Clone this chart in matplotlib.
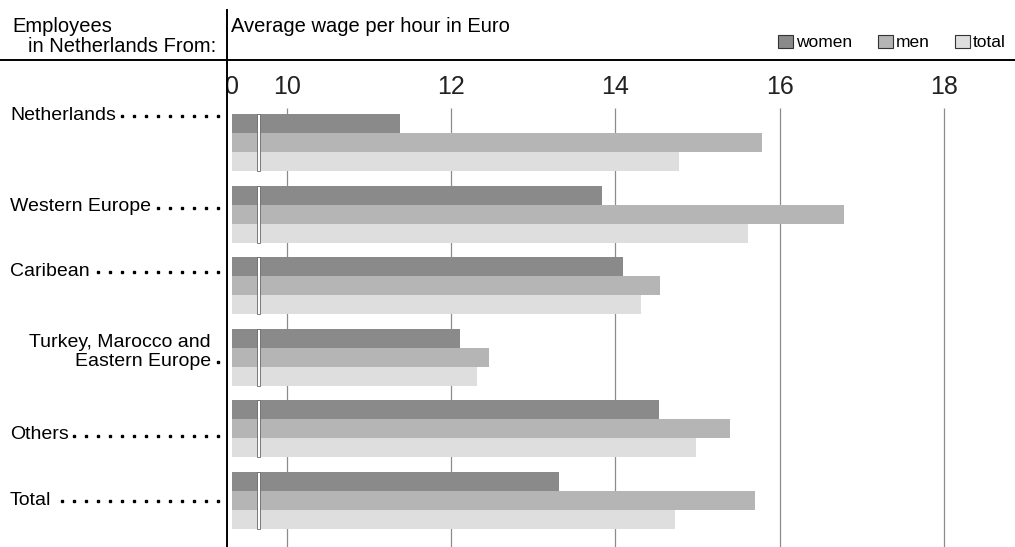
import numpy as np
import matplotlib
matplotlib.use('Agg')
import matplotlib.pyplot as plt
from matplotlib import font_manager
from matplotlib.lines import Line2D
from matplotlib.patches import Patch, Rectangle

# data (euro per hour)
countries = ['Netherlands', 'Western Europe', 'Caribean',
             'Turkey, Marocco and\nEastern Europe', 'Others', 'Total']
women = [11.38, 13.84, 14.09, 12.11, 14.53, 13.31]
men = [15.78, 16.78, 14.54, 12.46, 15.40, 15.70]
total = [14.77, 15.62, 14.31, 12.31, 14.98, 14.73]
series_names = ['women', 'men', 'total']
tick_values = [0, 10, 12, 14, 16, 18]

colors = ['#8a8a8a', '#b5b5b5', '#dedede']
BREAK = 9.33      # the axis jumps from 0 to ~9.3
W, H = 1015, 547

names = {f.name for f in font_manager.fontManager.ttflist}
font = 'Liberation Sans' if 'Liberation Sans' in names else 'DejaVu Sans'
num_font = font
for n in ['Liberation Sans Narrow', 'DejaVu Sans Condensed']:
    if n in names:
        num_font = n
        break
plt.rcParams['font.family'] = font

fig = plt.figure(figsize=(W / 100, H / 100), dpi=100)
ax = fig.add_axes([227 / W, 0, 1 - 227 / W, 487 / H])

y = np.arange(len(countries))
h = 0.265
for k, (vals, c, name) in enumerate(zip([women, men, total], colors, series_names)):
    ax.barh(y + (k - 1) * h, np.array(vals) - BREAK, height=h, left=0,
            color=c, label=name, zorder=2)

# grid lines
grid_vals = [v for v in tick_values if v > 0]
ax.vlines([v - BREAK for v in grid_vals], -0.48, 5.7, color='#8c8c8c', lw=0.9, zorder=1)

# break marks on each group
for i in y:
    ax.add_patch(Rectangle((0.30, i - 1.5 * h), 0.04, 3 * h, facecolor='white',
                           edgecolor='#666666', lw=0.6, zorder=3))

# tick numbers
for v in tick_values:
    p = 0 if v == 0 else v - BREAK
    ax.text(p, -0.77, str(v), ha='center', va='center', fontsize=18,
            family=num_font, color='#222222')

ax.set_xlim(-0.061, 9.537)
ax.set_ylim(5.65, -1.152)
ax.set_xticks([])
ax.set_yticks([])
for s in ax.spines.values():
    s.set_visible(False)

# frame lines
fig.add_artist(Line2D([0, 1], [487 / H, 487 / H], color='black', lw=1.4))
fig.add_artist(Line2D([227 / W, 227 / W], [0, 537 / H], color='black', lw=1.4))

fig.text(12 / W, 1 - 27 / H, 'Employees', va='center', fontsize=14.5)
fig.text(216 / W, 1 - 46 / H, 'in Netherlands From:', ha='right', va='center', fontsize=14.5)
fig.text(231 / W, 1 - 27 / H, 'Average wage per hour in Euro', va='center', fontsize=14.5)

handles = [Patch(facecolor=c, edgecolor='#333333', lw=0.8) for c in colors]
ax.legend(handles, series_names, loc='lower right', bbox_to_anchor=(1.0, 1.0),
          ncol=3, frameon=False, fontsize=12.5, handlelength=0.85, handleheight=0.85,
          handletextpad=0.15, columnspacing=1.5, borderaxespad=0.15)

# category labels with dotted leaders
label_shift = [-0.38, -0.10, -0.20, -0.07, 0.08, 0.0]
texts = []
for i, (lab, sh) in enumerate(zip(countries, label_shift)):
    yy = ax.transData.transform((0, i + sh))[1] / H
    if '\n' in lab:
        t = fig.text(211 / W, yy, lab, ha='right', va='center', fontsize=14,
                     multialignment='right', linespacing=1.15)
    else:
        t = fig.text(10 / W, yy, lab, ha='left', va='center', fontsize=14)
    texts.append(t)

fig.canvas.draw()
for t, lab in zip(texts, countries):
    bb = t.get_window_extent()
    nl = lab.count('\n') + 1
    ly = bb.y0 + bb.height / (2 * nl) - 1
    xs = np.arange(218, bb.x1 + 5, -12.0)
    fig.add_artist(Line2D(xs / W, np.full(len(xs), ly) / H, ls='none',
                          marker='s', ms=2.1, color='black'))

fig.savefig('out.png', dpi=100, facecolor='white')
